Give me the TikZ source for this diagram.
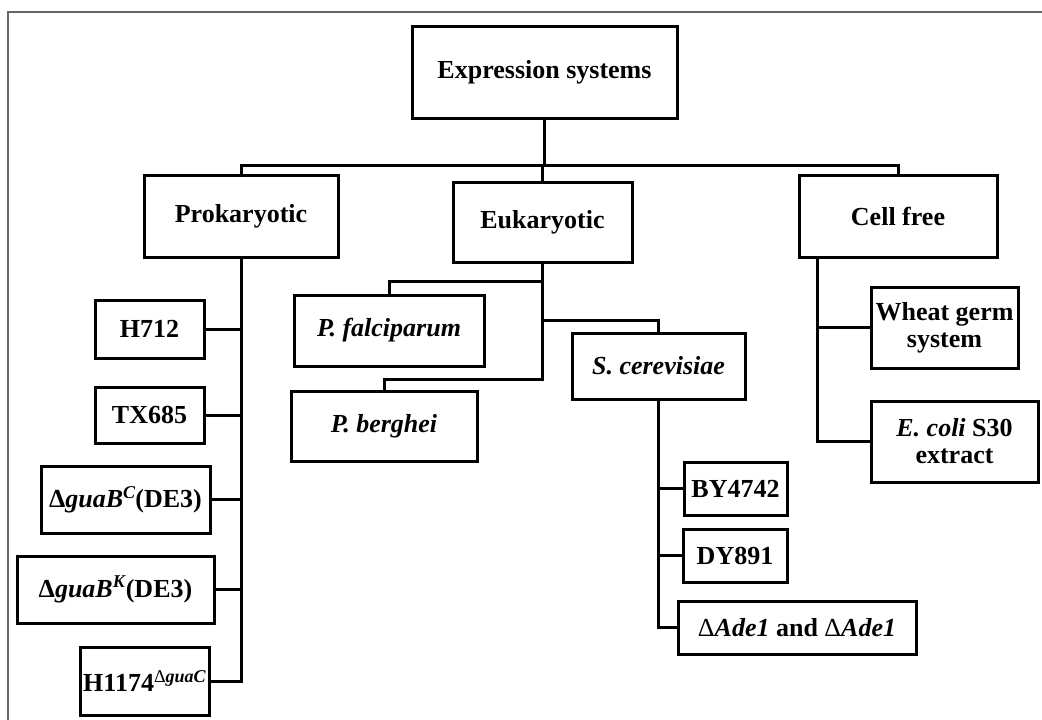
\documentclass[tikz,border=0pt]{standalone}
\usepackage{fontspec}
\setmainfont{Liberation Serif}
\begin{document}
\begin{tikzpicture}[x=1pt,y=-1pt,
  box/.style={draw=black, line width=3pt, fill=white, inner sep=0pt,
    align=center, font=\fontsize{26}{27}\selectfont\bfseries},
  link/.style={draw=black, line width=3pt, line join=miter},
  frameline/.style={draw=black!60, line width=1.2pt}]
\useasboundingbox (0,0) rectangle (1042,720);
\newcommand{\supx}[1]{\raisebox{0.36em}{\fontsize{18}{18}\selectfont #1}}

% outer frame
\draw[frameline] (8,722) -- (8,12) -- (1044,12);

% root and first level
\node[box, minimum width=265pt, minimum height=92pt] (top) at (544.5,72) {Expression systems};
\node[box, minimum width=194pt, minimum height=82pt] (pro) at (241,216) {Prokaryotic};
\node[box, minimum width=179pt, minimum height=80pt] (euk) at (542.5,222) {Eukaryotic};
\node[box, minimum width=198pt, minimum height=82pt] (cell) at (898,216) {Cell free};

% prokaryotic strains
\node[box, minimum width=109pt, minimum height=58pt] (h712) at (149.5,329) {H712};
\node[box, minimum width=109pt, minimum height=56pt] (tx) at (149.5,415) {TX685};
\node[box, minimum width=169pt, minimum height=67pt] (gbc) at (125.5,499.5) {Δ\textit{guaB}\supx{\textit{C}}(DE3)};
\node[box, minimum width=197pt, minimum height=67pt] (gbk) at (115.5,589.5) {Δ\textit{guaB}\supx{\textit{K}}(DE3)};
\node[box, minimum width=129pt, minimum height=68pt] (h1174) at (144.5,681) {H1174\supx{\mdseries Δ\bfseries\textit{guaC}}};

% eukaryotic hosts
\node[box, minimum width=190pt, minimum height=71pt] (pf) at (389,330.5) {\textit{P. falciparum}};
\node[box, minimum width=186pt, minimum height=70pt] (pb) at (384,426) {\textit{P. berghei}};
\node[box, minimum width=173pt, minimum height=66pt] (sc) at (658.5,366) {\textit{S. cerevisiae}};

% S. cerevisiae strains
\node[box, minimum width=103pt, minimum height=53pt] (by) at (735.5,488.5) {BY4742};
\node[box, minimum width=104pt, minimum height=53pt] (dy) at (735,555.5) {DY891};
\node[box, minimum width=238pt, minimum height=53pt] (ade) at (797,627.5) {{\mdseries Δ}\textit{Ade1} and {\mdseries Δ}\textit{Ade1}};

% cell-free systems
\node[box, minimum width=147pt, minimum height=81pt] (wheat) at (944.5,327.5) {Wheat germ\\system};
\node[box, minimum width=167pt, minimum height=81pt] (ecoli) at (954.5,441.5) {\textit{E. coli} S30\\extract};

% root to first level
\coordinate (bar) at (0,165);
\draw[link] (top.south) -- (top.south |- bar);
\draw[link] (pro.north) -- (pro.north |- bar) -- (cell.north |- bar) -- (cell.north);
\draw[link] (euk.north) -- (euk.north |- bar);

% prokaryotic branch
\draw[link] (pro.south) |- (h1174.east);
\foreach \n in {h712,tx,gbc,gbk}
  \draw[link] (\n.east) -- (\n.east -| pro.south);

% eukaryotic branch
\draw[link] (pb.north) -- ++(0,-10) -| (euk.south);
\draw[link] (pf.north) -- ++(0,-12) -| (euk.south);
\draw[link] (sc.north) -- ++(0,-11) -| (euk.south);

% S. cerevisiae branch
\draw[link] (sc.south) |- (ade.west);
\foreach \n in {by,dy}
  \draw[link] (\n.west) -- (\n.west -| sc.south);

% cell-free branch
\coordinate (cft) at ([xshift=20pt]cell.south west);
\draw[link] (cft) |- (ecoli.west);
\draw[link] (wheat.west) -- (wheat.west -| cft);
\end{tikzpicture}
\end{document}
